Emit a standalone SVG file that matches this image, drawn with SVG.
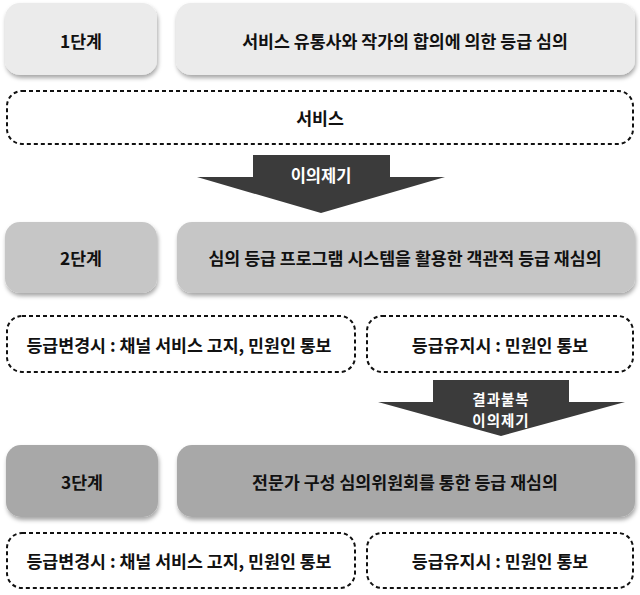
<svg xmlns="http://www.w3.org/2000/svg" width="640" height="595" viewBox="0 0 640 595">
<defs>
<filter id="sh" x="-10%" y="-10%" width="120%" height="130%">
<feDropShadow dx="1" dy="3" stdDeviation="2" flood-color="#000" flood-opacity="0.35"/>
</filter>
<style>
.t{font-family:"Noto Sans CJK KR","Noto Sans",sans-serif;font-weight:bold;font-size:17.3px;fill:#111;text-anchor:middle;dominant-baseline:central}
.w{fill:#fff;font-size:16.5px}
.w2{fill:#fff;font-size:14.5px;letter-spacing:1px}
.s1{fill:#ebebeb}
.s2{fill:#c6c6c6}
.s3{fill:#a8a8a8}
.d{fill:#fff;stroke:#111;stroke-width:2;stroke-dasharray:4 3}
.ar{fill:#3b3b3b}
</style>
</defs>
<rect width="640" height="595" fill="#fff"/>
<g id="stage1">
<rect class="s1" x="5" y="3" width="152" height="72" rx="15" filter="url(#sh)"/>
<text class="t" x="81" y="40">1단계</text>
</g>
<g id="stage1-desc">
<rect class="s1" x="176" y="3" width="459" height="72" rx="15" filter="url(#sh)"/>
<text class="t" x="405" y="40">서비스 유통사와 작가의 합의에 의한 등급 심의</text>
</g>
<g id="service">
<rect class="d" x="7" y="91" width="626" height="53" rx="15"/>
<text class="t" x="320" y="117">서비스</text>
</g>
<g id="stage2">
<rect class="s2" x="5" y="222" width="152" height="71" rx="15" filter="url(#sh)"/>
<text class="t" x="81" y="257">2단계</text>
</g>
<g id="stage2-desc">
<rect class="s2" x="177" y="222" width="458" height="71" rx="15" filter="url(#sh)"/>
<text class="t" x="405" y="257">심의 등급 프로그램 시스템을 활용한 객관적 등급 재심의</text>
</g>
<g id="stage2-change">
<rect class="d" x="7" y="316" width="348" height="56" rx="15"/>
<text class="t" x="179" y="344">등급변경시 : 채널 서비스 고지, 민원인 통보</text>
</g>
<g id="stage2-keep">
<rect class="d" x="367" y="316" width="266" height="56" rx="15"/>
<text class="t" x="500" y="344">등급유지시 : 민원인 통보</text>
</g>
<g id="stage3">
<rect class="s3" x="6" y="445" width="152" height="72" rx="15" filter="url(#sh)"/>
<text class="t" x="82" y="481">3단계</text>
</g>
<g id="stage3-desc">
<rect class="s3" x="177" y="445" width="458" height="72" rx="15" filter="url(#sh)"/>
<text class="t" x="405" y="481">전문가 구성 심의위원회를 통한 등급 재심의</text>
</g>
<g id="stage3-change">
<rect class="d" x="7" y="533" width="348" height="55" rx="15"/>
<text class="t" x="179" y="560">등급변경시 : 채널 서비스 고지, 민원인 통보</text>
</g>
<g id="stage3-keep">
<rect class="d" x="367" y="533" width="266" height="55" rx="15"/>
<text class="t" x="500" y="560">등급유지시 : 민원인 통보</text>
</g>
<g id="connectors">
<polygon class="ar" points="253,155 390,155 390,177 445,177 321,213 197,177 253,177"/>
<text class="t w" x="321" y="175">이의제기</text>
<polygon class="ar" points="433,380 569,380 569,402 625,402 501,436 378,402 433,402"/>
<text class="t w2" x="501" y="398">결과불복</text>
<text class="t w2" x="501" y="419">이의제기</text>
</g>
</svg>
